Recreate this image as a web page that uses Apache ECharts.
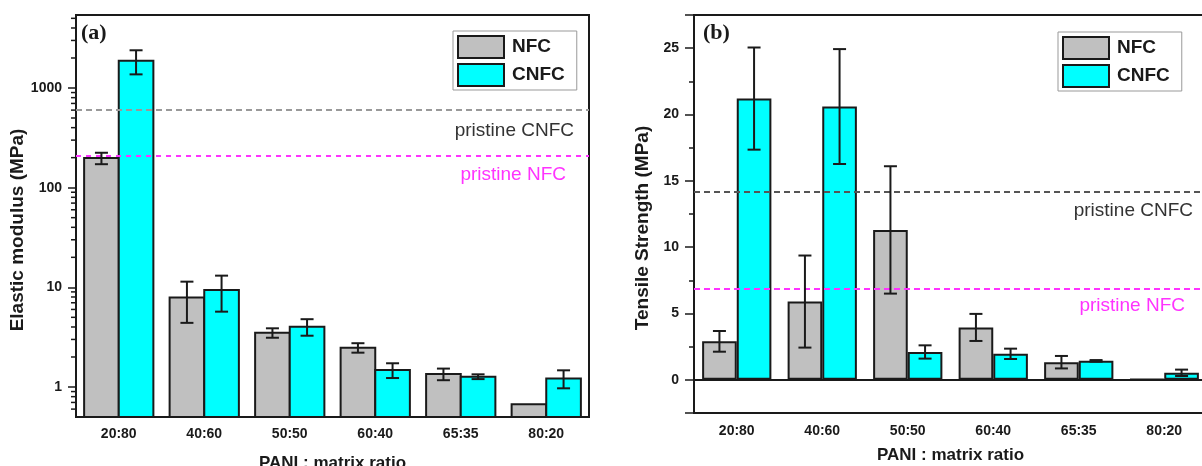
<!DOCTYPE html>
<html>
<head>
<meta charset="utf-8">
<script src="https://cdn.jsdelivr.net/npm/echarts@6/dist/echarts.min.js"></script>
<style>
html,body{margin:0;padding:0;background:#fff;}
#chart{width:1202px;height:466px;}
</style>
</head>
<body>
<div id="chart"></div>
<script>
// ---------- data ----------
var categories = ['20:80', '40:60', '50:50', '60:40', '65:35', '80:20'];

// panel (a) Elastic modulus (MPa)
var modulusNFC      = [198, 7.9, 3.5, 2.48, 1.35, 0.67];
var modulusNFCErr   = [26, 3.5, 0.38, 0.27, 0.18, null];
var modulusCNFC     = [1880, 9.4, 4.03, 1.48, 1.27, 1.22];
var modulusCNFCErr  = [510, 3.7, 0.76, 0.25, 0.07, 0.25];
var modulusPristineCNFC = 600;
var modulusPristineNFC  = 209;
var modulusMinorTicks = [0.6, 0.7, 0.8, 0.9, 2, 3, 4, 5, 6, 7, 8, 9,
  20, 30, 40, 50, 60, 70, 80, 90, 200, 300, 400, 500, 600, 700, 800, 900,
  2000, 3000, 4000, 5000];

// panel (b) Tensile Strength (MPa)
var strengthNFC     = [2.9, 5.9, 11.3, 3.95, 1.33, 0.05];
var strengthNFCErr  = [0.78, 3.47, 4.8, 1.02, 0.47, null];
var strengthCNFC    = [21.2, 20.6, 2.1, 1.96, 1.43, 0.53];
var strengthCNFCErr = [3.85, 4.33, 0.5, 0.39, 0.06, 0.24];
var strengthPristineCNFC = 14.17;
var strengthPristineNFC  = 6.85;

// ---------- styling ----------
var SANS = 'Liberation Sans, Arial, sans-serif';
var SERIF = 'Liberation Serif, Times New Roman, serif';
var INK = '#1a1a1a';
var GAP = 0.19;
var NFC_COLOR = '#c0c0c0';
var CNFC_COLOR = '#00ffff';
var MAGENTA = '#ff33ff';

function errData(vals, errs) {
  var out = [];
  for (var i = 0; i < vals.length; i++) {
    if (errs[i] != null) out.push([i, vals[i] - errs[i], vals[i] + errs[i]]);
  }
  return out;
}

function errRender(sign) {
  return function (params, api) {
    var i = api.value(0);
    var band = api.size([1, 0])[0];
    var barW = band * (1 - GAP) / 2;
    var lo = api.coord([i, api.value(1)]);
    var hi = api.coord([i, api.value(2)]);
    var x = lo[0] + sign * barW / 2;
    var cap = 6.5;
    var st = { stroke: INK, lineWidth: 2 };
    return {
      type: 'group',
      children: [
        { type: 'line', shape: { x1: x, y1: lo[1], x2: x, y2: hi[1] }, style: st },
        { type: 'line', shape: { x1: x - cap, y1: lo[1], x2: x + cap, y2: lo[1] }, style: st },
        { type: 'line', shape: { x1: x - cap, y1: hi[1], x2: x + cap, y2: hi[1] }, style: st }
      ]
    };
  };
}

// bars on the log axis rise from the axis bottom (custom series)
function logBarRender(sign, color) {
  return function (params, api) {
    var i = api.value(0);
    var band = api.size([1, 0])[0];
    var barW = band * (1 - GAP) / 2;
    var top = api.coord([i, api.value(1)]);
    var base = params.coordSys.y + params.coordSys.height;
    var xc = top[0] + sign * barW / 2;
    return {
      type: 'rect',
      shape: { x: xc - barW / 2, y: top[1], width: barW, height: base - top[1] },
      style: { fill: color, stroke: INK, lineWidth: 2 }
    };
  };
}

function minorTickRender(params, api) {
  var y = api.coord([0, api.value(1)])[1];
  var x = params.coordSys.x;
  return { type: 'line', shape: { x1: x - 5, y1: y, x2: x, y2: y }, style: { stroke: INK, lineWidth: 1.5 } };
}

function barSeries(name, data, color, xi, extra) {
  var s = {
    name: name, type: 'bar', data: data,
    xAxisIndex: xi, yAxisIndex: xi,
    barGap: '0%', barCategoryGap: (GAP * 100) + '%',
    itemStyle: { color: color, borderColor: INK, borderWidth: 2 }
  };
  for (var k in extra) s[k] = extra[k];
  return s;
}

function refLine(value, color, labelColor, dash, text, dist) {
  return {
    yAxis: value,
    lineStyle: { color: color, type: dash, width: 2 },
    label: {
      show: true, position: 'insideEndBottom', formatter: text,
      color: labelColor, fontSize: 19, fontFamily: SANS,
      distance: dist
    }
  };
}

function legendCfg(left, top) {
  return {
    data: [
      { name: 'NFC', itemStyle: { color: NFC_COLOR, borderColor: INK, borderWidth: 2 } },
      { name: 'CNFC', itemStyle: { color: CNFC_COLOR, borderColor: INK, borderWidth: 2 } }
    ],
    orient: 'vertical', left: left, top: top,
    itemWidth: 46, itemHeight: 22, itemGap: 4, icon: 'rect',
    padding: [4, 12, 3, 4], borderColor: '#999', borderWidth: 1,
    textStyle: { fontFamily: SANS, fontWeight: 'bold', fontSize: 19, lineHeight: 22, color: INK, padding: [0, 0, 0, 3] },
    selectedMode: false
  };
}

var chart = echarts.init(document.getElementById('chart'), null, { renderer: 'canvas' });

var axisLine = { show: true, lineStyle: { color: INK, width: 2 } };

var option = {
  animation: false,
  backgroundColor: '#fff',
  grid: [
    { left: 76, right: 613, top: 15, bottom: 49, outerBoundsMode: 'none', containLabel: false,
      show: true, borderColor: INK, borderWidth: 2, backgroundColor: 'transparent' },
    { left: 694, right: -5, top: 15, bottom: 53, outerBoundsMode: 'none', containLabel: false,
      show: true, borderColor: INK, borderWidth: 2, backgroundColor: 'transparent' }
  ],
  legend: [legendCfg(453, 31), legendCfg(1058, 32)],
  xAxis: [
    {
      type: 'category', gridIndex: 0, data: categories,
      axisLine: axisLine, axisTick: { show: false },
      axisLabel: { fontFamily: SANS, fontWeight: 'bold', fontSize: 14, color: INK, margin: 10 },
      name: 'PANI : matrix ratio', nameLocation: 'middle', nameGap: 38,
      nameTextStyle: { fontFamily: SANS, fontWeight: 'bold', fontSize: 17, color: INK }
    },
    {
      type: 'category', gridIndex: 1, data: categories,
      axisLine: axisLine, axisTick: { show: false },
      axisLabel: { fontFamily: SANS, fontWeight: 'bold', fontSize: 14, color: INK, margin: 11 },
      name: 'PANI : matrix ratio', nameLocation: 'middle', nameGap: 34,
      nameTextStyle: { fontFamily: SANS, fontWeight: 'bold', fontSize: 17, color: INK }
    }
  ],
  yAxis: [
    {
      type: 'log', gridIndex: 0, min: 0.5, max: 5400, logBase: 10,
      axisLine: axisLine,
      axisTick: { show: true, inside: false, length: 8, lineStyle: { color: INK, width: 1.5 } },
      splitLine: { show: false },
      axisLabel: {
        fontFamily: SANS, fontWeight: 'bold', fontSize: 14, color: INK, margin: 14,
        showMinLabel: false, showMaxLabel: false,
        formatter: function (v) {
          var l = Math.log(v) / Math.LN10;
          return Math.abs(l - Math.round(l)) < 1e-6 ? String(Math.round(v)) : '';
        }
      },
      name: 'Elastic modulus (MPa)', nameLocation: 'middle', nameGap: 44, nameRotate: 90,
      nameTextStyle: { fontFamily: SANS, fontWeight: 'bold', fontSize: 19, color: INK, padding: [0, 28, 0, 0] }
    },
    {
      type: 'value', gridIndex: 1, min: -2.5, max: 27.5,
      axisLine: axisLine,
      axisTick: { show: true, inside: false, length: 9, lineStyle: { color: INK, width: 1.5 } },
      minorTick: { show: true, splitNumber: 2, length: 5, lineStyle: { color: INK, width: 1.5 } },
      splitLine: { show: false },
      axisLabel: {
        fontFamily: SANS, fontWeight: 'bold', fontSize: 14, color: INK, margin: 15,
        showMinLabel: false, showMaxLabel: false
      },
      name: 'Tensile Strength (MPa)', nameLocation: 'middle', nameGap: 42, nameRotate: 90,
      nameTextStyle: { fontFamily: SANS, fontWeight: 'bold', fontSize: 19, color: INK, padding: [0, 28, 0, 0] }
    }
  ],
  graphic: [
    { type: 'text', left: 81, top: 22, style: { text: '(a)', font: 'bold 22px ' + SERIF, fill: INK } },
    { type: 'text', left: 703, top: 22, style: { text: '(b)', font: 'bold 22px ' + SERIF, fill: INK } }
  ],
  series: [
    {
      name: 'NFC', type: 'custom', xAxisIndex: 0, yAxisIndex: 0, z: 2,
      data: modulusNFC.map(function (v, i) { return [i, v]; }),
      renderItem: logBarRender(-1, NFC_COLOR), encode: { x: 0, y: 1 }, silent: true,
      itemStyle: { color: NFC_COLOR },
      markLine: {
        silent: true, symbol: ['none', 'none'],
        data: [
          refLine(modulusPristineCNFC, '#999999', '#333333', [6, 4], 'pristine CNFC', [15, 11]),
          refLine(modulusPristineNFC, MAGENTA, MAGENTA, [5, 5], 'pristine NFC', [23, 10])
        ]
      }
    },
    {
      name: 'CNFC', type: 'custom', xAxisIndex: 0, yAxisIndex: 0, z: 2,
      data: modulusCNFC.map(function (v, i) { return [i, v]; }),
      renderItem: logBarRender(1, CNFC_COLOR), encode: { x: 0, y: 1 }, silent: true,
      itemStyle: { color: CNFC_COLOR }
    },
    barSeries('NFC', strengthNFC, NFC_COLOR, 1, {
      markLine: {
        silent: true, symbol: ['none', 'none'],
        data: [
          refLine(strengthPristineCNFC, '#555555', '#333333', [6, 4], 'pristine CNFC', [14, 9]),
          refLine(strengthPristineNFC, MAGENTA, MAGENTA, [6, 4], 'pristine NFC', [22, 7])
        ]
      }
    }),
    barSeries('CNFC', strengthCNFC, CNFC_COLOR, 1, {}),
    {
      name: 'errA1', type: 'custom', xAxisIndex: 0, yAxisIndex: 0, z: 5,
      data: errData(modulusNFC, modulusNFCErr), renderItem: errRender(-1), encode: { x: 0, y: [1, 2] }, silent: true
    },
    {
      name: 'errA2', type: 'custom', xAxisIndex: 0, yAxisIndex: 0, z: 5,
      data: errData(modulusCNFC, modulusCNFCErr), renderItem: errRender(1), encode: { x: 0, y: [1, 2] }, silent: true
    },
    {
      name: 'errB1', type: 'custom', xAxisIndex: 1, yAxisIndex: 1, z: 5,
      data: errData(strengthNFC, strengthNFCErr), renderItem: errRender(-1), encode: { x: 0, y: [1, 2] }, silent: true
    },
    {
      name: 'errB2', type: 'custom', xAxisIndex: 1, yAxisIndex: 1, z: 5,
      data: errData(strengthCNFC, strengthCNFCErr), renderItem: errRender(1), encode: { x: 0, y: [1, 2] }, silent: true
    },
    {
      name: 'minorA', type: 'custom', xAxisIndex: 0, yAxisIndex: 0, z: 5, clip: false,
      data: modulusMinorTicks.map(function (v) { return [0, v]; }),
      renderItem: minorTickRender, encode: { x: 0, y: 1 }, silent: true
    }
  ]
};
chart.setOption(option);
</script>
</body>
</html>
